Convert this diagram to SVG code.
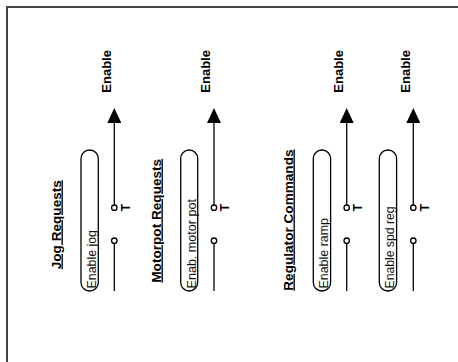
<svg xmlns="http://www.w3.org/2000/svg" width="458" height="362" viewBox="0 0 458 362">
<style>
.frame{fill:none;stroke:#444;stroke-width:2}
.pill{fill:none;stroke:#000;stroke-width:1.3}
.wire{fill:none;stroke:#000;stroke-width:1.3}
.term{fill:#fff;stroke:#000;stroke-width:1.3}
.hdr{font-family:"Liberation Sans",Arial,sans-serif;font-weight:bold;font-size:13.6px;text-decoration:underline;fill:#000}
.lbl{font-family:"Liberation Sans",Arial,sans-serif;font-size:13.6px;fill:#111}
.en{font-family:"Liberation Sans",Arial,sans-serif;font-weight:bold;font-size:13px;fill:#000}
.t{font-family:"Liberation Sans",Arial,sans-serif;font-weight:bold;font-size:12.5px;fill:#000}
</style>
<defs>
<marker id="arr" viewBox="0 0 15 14" refX="0" refY="7" markerWidth="15" markerHeight="14" markerUnits="userSpaceOnUse" orient="auto">
<path d="M0,0 L15,7 L0,14 Z" fill="#000"/>
</marker>
</defs>
<rect class="frame" x="7" y="7" width="470" height="380"/>
<g id="headers">
<text class="hdr" transform="translate(60.5,269.3) rotate(-90)">Jog Requests</text>
<text class="hdr" transform="translate(160.5,282.7) rotate(-90)">Motorpot Requests</text>
<text class="hdr" transform="translate(292.5,290.7) rotate(-90)">Regulator Commands</text>
</g>
<g id="node-jog">
<rect class="pill" x="81" y="150" width="17.3" height="141" rx="8.6"/>
<text class="lbl" transform="translate(96.3,288.5) rotate(-90)" textLength="58.5" lengthAdjust="spacingAndGlyphs">Enable jog</text>
</g>
<g id="node-motorpot">
<rect class="pill" x="180.7" y="150" width="17" height="141" rx="8.5"/>
<text class="lbl" transform="translate(195.8,288.5) rotate(-90)" textLength="89.5" lengthAdjust="spacingAndGlyphs">Enab. motor pot</text>
</g>
<g id="node-ramp">
<rect class="pill" x="313.3" y="150" width="17.3" height="141" rx="8.6"/>
<text class="lbl" transform="translate(327.6,288.5) rotate(-90)" textLength="70.5" lengthAdjust="spacingAndGlyphs">Enable ramp</text>
</g>
<g id="node-spdreg">
<rect class="pill" x="379.3" y="150" width="17.3" height="141" rx="8.6"/>
<text class="lbl" transform="translate(393.6,288.5) rotate(-90)" textLength="82" lengthAdjust="spacingAndGlyphs">Enable spd reg</text>
</g>
<g id="connectors">
<line class="wire" x1="114.3" y1="205" x2="114.3" y2="123" marker-end="url(#arr)"/>
<line class="wire" x1="114.3" y1="243.4" x2="114.3" y2="291"/>
<circle class="term" cx="114.3" cy="207.7" r="2.7"/>
<circle class="term" cx="114.3" cy="240.7" r="2.7"/>
<line class="wire" x1="214" y1="205" x2="214" y2="123" marker-end="url(#arr)"/>
<line class="wire" x1="214" y1="243.4" x2="214" y2="291"/>
<circle class="term" cx="214" cy="207.7" r="2.7"/>
<circle class="term" cx="214" cy="240.7" r="2.7"/>
<line class="wire" x1="346.7" y1="205" x2="346.7" y2="123" marker-end="url(#arr)"/>
<line class="wire" x1="346.7" y1="243.4" x2="346.7" y2="291"/>
<circle class="term" cx="346.7" cy="207.7" r="2.7"/>
<circle class="term" cx="346.7" cy="240.7" r="2.7"/>
<line class="wire" x1="413.3" y1="205" x2="413.3" y2="123" marker-end="url(#arr)"/>
<line class="wire" x1="413.3" y1="243.4" x2="413.3" y2="291"/>
<circle class="term" cx="413.3" cy="207.7" r="2.7"/>
<circle class="term" cx="413.3" cy="240.7" r="2.7"/>
</g>
<g id="labels">
<text class="en" transform="translate(110.5,92.7) rotate(-90)">Enable</text>
<text class="en" transform="translate(210.2,92.7) rotate(-90)">Enable</text>
<text class="en" transform="translate(342.9,92.7) rotate(-90)">Enable</text>
<text class="en" transform="translate(409.5,92.7) rotate(-90)">Enable</text>
<text class="t" text-anchor="middle" transform="translate(129.5,207.7) rotate(-90)">T</text>
<text class="t" text-anchor="middle" transform="translate(229.2,207.7) rotate(-90)">T</text>
<text class="t" text-anchor="middle" transform="translate(361.9,207.7) rotate(-90)">T</text>
<text class="t" text-anchor="middle" transform="translate(428.5,207.7) rotate(-90)">T</text>
</g>
</svg>
